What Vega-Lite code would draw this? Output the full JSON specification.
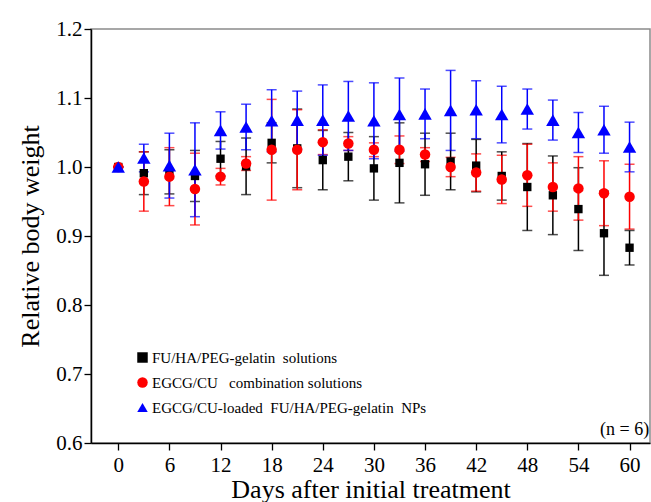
{
  "$schema": "https://vega.github.io/schema/vega-lite/v6.json",
  "width": 559,
  "height": 414,
  "autosize": {"type": "none"},
  "padding": {"left": 91, "top": 29, "right": 1, "bottom": 59},
  "background": "white",
  "config": {
    "view": {"stroke": "#8a8a8a", "strokeWidth": 1.5},
    "font": "Liberation Serif",
    "text": {"font": "Liberation Serif"},
    "legend": {"labelFont": "Liberation Serif", "titleFont": "Liberation Serif"},
    "axis": {
      "grid": false,
      "domainColor": "#000000",
      "domainWidth": 1.5,
      "tickColor": "#000000",
      "tickWidth": 1.3,
      "labelFont": "Liberation Serif",
      "titleFont": "Liberation Serif",
      "labelColor": "#000000",
      "titleColor": "#000000",
      "titleFontWeight": "normal"
    }
  },
  "datasets": {
    "main": [
      {"series": "FU/HA/PEG-gelatin\u00a0 solutions", "day": 0, "mean": 1.000, "sd": 0.0},
      {"series": "FU/HA/PEG-gelatin\u00a0 solutions", "day": 3, "mean": 0.991, "sd": 0.031},
      {"series": "FU/HA/PEG-gelatin\u00a0 solutions", "day": 6, "mean": 0.993, "sd": 0.032},
      {"series": "FU/HA/PEG-gelatin\u00a0 solutions", "day": 9, "mean": 0.987, "sd": 0.037},
      {"series": "FU/HA/PEG-gelatin\u00a0 solutions", "day": 12, "mean": 1.012, "sd": 0.025},
      {"series": "FU/HA/PEG-gelatin\u00a0 solutions", "day": 15, "mean": 1.001, "sd": 0.041},
      {"series": "FU/HA/PEG-gelatin\u00a0 solutions", "day": 18, "mean": 1.035, "sd": 0.029},
      {"series": "FU/HA/PEG-gelatin\u00a0 solutions", "day": 21, "mean": 1.027, "sd": 0.057},
      {"series": "FU/HA/PEG-gelatin\u00a0 solutions", "day": 24, "mean": 1.010, "sd": 0.043},
      {"series": "FU/HA/PEG-gelatin\u00a0 solutions", "day": 27, "mean": 1.015, "sd": 0.035},
      {"series": "FU/HA/PEG-gelatin\u00a0 solutions", "day": 30, "mean": 0.998, "sd": 0.046},
      {"series": "FU/HA/PEG-gelatin\u00a0 solutions", "day": 33, "mean": 1.006, "sd": 0.058},
      {"series": "FU/HA/PEG-gelatin\u00a0 solutions", "day": 36, "mean": 1.004, "sd": 0.045},
      {"series": "FU/HA/PEG-gelatin\u00a0 solutions", "day": 39, "mean": 1.008, "sd": 0.041},
      {"series": "FU/HA/PEG-gelatin\u00a0 solutions", "day": 42, "mean": 1.002, "sd": 0.038},
      {"series": "FU/HA/PEG-gelatin\u00a0 solutions", "day": 45, "mean": 0.987, "sd": 0.035},
      {"series": "FU/HA/PEG-gelatin\u00a0 solutions", "day": 48, "mean": 0.971, "sd": 0.063},
      {"series": "FU/HA/PEG-gelatin\u00a0 solutions", "day": 51, "mean": 0.959, "sd": 0.057},
      {"series": "FU/HA/PEG-gelatin\u00a0 solutions", "day": 54, "mean": 0.939, "sd": 0.060},
      {"series": "FU/HA/PEG-gelatin\u00a0 solutions", "day": 57, "mean": 0.904, "sd": 0.061},
      {"series": "FU/HA/PEG-gelatin\u00a0 solutions", "day": 60, "mean": 0.883, "sd": 0.025},
      {"series": "EGCG/CU\u00a0\u00a0 combination solutions", "day": 0, "mean": 1.000, "sd": 0.0},
      {"series": "EGCG/CU\u00a0\u00a0 combination solutions", "day": 3, "mean": 0.979, "sd": 0.043},
      {"series": "EGCG/CU\u00a0\u00a0 combination solutions", "day": 6, "mean": 0.986, "sd": 0.042},
      {"series": "EGCG/CU\u00a0\u00a0 combination solutions", "day": 9, "mean": 0.968, "sd": 0.052},
      {"series": "EGCG/CU\u00a0\u00a0 combination solutions", "day": 12, "mean": 0.986, "sd": 0.012},
      {"series": "EGCG/CU\u00a0\u00a0 combination solutions", "day": 15, "mean": 1.005, "sd": 0.010},
      {"series": "EGCG/CU\u00a0\u00a0 combination solutions", "day": 18, "mean": 1.025, "sd": 0.073},
      {"series": "EGCG/CU\u00a0\u00a0 combination solutions", "day": 21, "mean": 1.025, "sd": 0.058},
      {"series": "EGCG/CU\u00a0\u00a0 combination solutions", "day": 24, "mean": 1.036, "sd": 0.018},
      {"series": "EGCG/CU\u00a0\u00a0 combination solutions", "day": 27, "mean": 1.034, "sd": 0.010},
      {"series": "EGCG/CU\u00a0\u00a0 combination solutions", "day": 30, "mean": 1.025, "sd": 0.010},
      {"series": "EGCG/CU\u00a0\u00a0 combination solutions", "day": 33, "mean": 1.025, "sd": 0.020},
      {"series": "EGCG/CU\u00a0\u00a0 combination solutions", "day": 36, "mean": 1.018, "sd": 0.010},
      {"series": "EGCG/CU\u00a0\u00a0 combination solutions", "day": 39, "mean": 1.000, "sd": 0.014},
      {"series": "EGCG/CU\u00a0\u00a0 combination solutions", "day": 42, "mean": 0.992, "sd": 0.027},
      {"series": "EGCG/CU\u00a0\u00a0 combination solutions", "day": 45, "mean": 0.982, "sd": 0.035},
      {"series": "EGCG/CU\u00a0\u00a0 combination solutions", "day": 48, "mean": 0.988, "sd": 0.045},
      {"series": "EGCG/CU\u00a0\u00a0 combination solutions", "day": 51, "mean": 0.971, "sd": 0.035},
      {"series": "EGCG/CU\u00a0\u00a0 combination solutions", "day": 54, "mean": 0.969, "sd": 0.046},
      {"series": "EGCG/CU\u00a0\u00a0 combination solutions", "day": 57, "mean": 0.962, "sd": 0.047},
      {"series": "EGCG/CU\u00a0\u00a0 combination solutions", "day": 60, "mean": 0.957, "sd": 0.047},
      {"series": "EGCG/CU-loaded\u00a0 FU/HA/PEG-gelatin\u00a0 NPs", "day": 0, "mean": 1.000, "sd": 0.0},
      {"series": "EGCG/CU-loaded\u00a0 FU/HA/PEG-gelatin\u00a0 NPs", "day": 3, "mean": 1.013, "sd": 0.020},
      {"series": "EGCG/CU-loaded\u00a0 FU/HA/PEG-gelatin\u00a0 NPs", "day": 6, "mean": 1.002, "sd": 0.047},
      {"series": "EGCG/CU-loaded\u00a0 FU/HA/PEG-gelatin\u00a0 NPs", "day": 9, "mean": 0.996, "sd": 0.068},
      {"series": "EGCG/CU-loaded\u00a0 FU/HA/PEG-gelatin\u00a0 NPs", "day": 12, "mean": 1.053, "sd": 0.027},
      {"series": "EGCG/CU-loaded\u00a0 FU/HA/PEG-gelatin\u00a0 NPs", "day": 15, "mean": 1.058, "sd": 0.033},
      {"series": "EGCG/CU-loaded\u00a0 FU/HA/PEG-gelatin\u00a0 NPs", "day": 18, "mean": 1.067, "sd": 0.045},
      {"series": "EGCG/CU-loaded\u00a0 FU/HA/PEG-gelatin\u00a0 NPs", "day": 21, "mean": 1.068, "sd": 0.042},
      {"series": "EGCG/CU-loaded\u00a0 FU/HA/PEG-gelatin\u00a0 NPs", "day": 24, "mean": 1.068, "sd": 0.051},
      {"series": "EGCG/CU-loaded\u00a0 FU/HA/PEG-gelatin\u00a0 NPs", "day": 27, "mean": 1.074, "sd": 0.050},
      {"series": "EGCG/CU-loaded\u00a0 FU/HA/PEG-gelatin\u00a0 NPs", "day": 30, "mean": 1.067, "sd": 0.055},
      {"series": "EGCG/CU-loaded\u00a0 FU/HA/PEG-gelatin\u00a0 NPs", "day": 33, "mean": 1.076, "sd": 0.053},
      {"series": "EGCG/CU-loaded\u00a0 FU/HA/PEG-gelatin\u00a0 NPs", "day": 36, "mean": 1.077, "sd": 0.036},
      {"series": "EGCG/CU-loaded\u00a0 FU/HA/PEG-gelatin\u00a0 NPs", "day": 39, "mean": 1.082, "sd": 0.058},
      {"series": "EGCG/CU-loaded\u00a0 FU/HA/PEG-gelatin\u00a0 NPs", "day": 42, "mean": 1.083, "sd": 0.042},
      {"series": "EGCG/CU-loaded\u00a0 FU/HA/PEG-gelatin\u00a0 NPs", "day": 45, "mean": 1.076, "sd": 0.041},
      {"series": "EGCG/CU-loaded\u00a0 FU/HA/PEG-gelatin\u00a0 NPs", "day": 48, "mean": 1.084, "sd": 0.029},
      {"series": "EGCG/CU-loaded\u00a0 FU/HA/PEG-gelatin\u00a0 NPs", "day": 51, "mean": 1.068, "sd": 0.029},
      {"series": "EGCG/CU-loaded\u00a0 FU/HA/PEG-gelatin\u00a0 NPs", "day": 54, "mean": 1.050, "sd": 0.029},
      {"series": "EGCG/CU-loaded\u00a0 FU/HA/PEG-gelatin\u00a0 NPs", "day": 57, "mean": 1.054, "sd": 0.034},
      {"series": "EGCG/CU-loaded\u00a0 FU/HA/PEG-gelatin\u00a0 NPs", "day": 60, "mean": 1.029, "sd": 0.036}
    ],
    "note": [{"note": "(n = 6)"}]
  },
  "layer": [
    {
      "data": {"name": "main"},
      "mark": {"type": "errorbar", "ticks": true, "size": 10, "thickness": 1.5},
      "encoding": {
        "x": {
          "field": "day",
          "type": "quantitative",
          "scale": {"domain": [-3.2, 62.4], "nice": false, "zero": false},
          "axis": {
            "title": "Days after initial treatment",
            "values": [0, 3, 6, 9, 12, 15, 18, 21, 24, 27, 30, 33, 36, 39, 42, 45, 48, 51, 54, 57, 60],
            "labelExpr": "datum.value % 6 == 0 ? datum.label : ''",
            "tickSize": {"condition": {"test": "datum.value % 6 == 0", "value": 7}, "value": 4},
            "labelFontSize": 21,
            "labelPadding": 4,
            "labelFlush": false,
            "labelOverlap": false,
            "titleFontSize": 26,
            "titlePadding": 1
          }
        },
        "y": {
          "field": "mean",
          "type": "quantitative",
          "scale": {"domain": [0.6, 1.2], "nice": false, "zero": false},
          "axis": {
            "title": "Relative body weight",
            "values": [0.6, 0.65, 0.7, 0.75, 0.8, 0.85, 0.9, 0.95, 1.0, 1.05, 1.1, 1.15, 1.2],
            "labelExpr": "round(datum.value * 100) % 10 == 0 ? format(datum.value, '.1f') : ''",
            "tickSize": {"condition": {"test": "round(datum.value * 100) % 10 == 0", "value": 7}, "value": 4},
            "labelFontSize": 21,
            "labelPadding": 2,
            "labelFlush": false,
            "labelOverlap": false,
            "titleFontSize": 26,
            "titlePadding": 12
          }
        },
        "yError": {"field": "sd"},
        "color": {
          "field": "series",
          "type": "nominal",
          "scale": {
            "domain": ["FU/HA/PEG-gelatin\u00a0 solutions", "EGCG/CU\u00a0\u00a0 combination solutions", "EGCG/CU-loaded\u00a0 FU/HA/PEG-gelatin\u00a0 NPs"],
            "range": ["#000000", "#ff0000", "#0000ff"]
          }
        }
      }
    },
    {
      "data": {"name": "main"},
      "transform": [{"filter": {"field": "series", "equal": "FU/HA/PEG-gelatin\u00a0 solutions"}}],
      "mark": {"type": "point", "filled": true, "opacity": 1, "size": 70},
      "encoding": {
        "x": {"field": "day", "type": "quantitative"},
        "y": {"field": "mean", "type": "quantitative"},
        "color": {
          "field": "series",
          "type": "nominal",
          "legend": {
            "orient": "none",
            "legendX": 44,
            "legendY": 321,
            "title": null,
            "labelFont": "Liberation Serif",
            "labelFontSize": 15,
            "labelColor": "#000000",
            "labelLimit": 500,
            "symbolSize": 110,
            "symbolOpacity": 1,
            "rowPadding": 9,
            "labelOffset": 2,
            "padding": 0,
            "symbolStrokeWidth": 0,
            "encode": {"symbols": {"update": {"opacity": {"value": 1}, "fillOpacity": {"value": 1}}}}
          }
        },
        "shape": {
          "field": "series",
          "type": "nominal",
          "scale": {
            "domain": ["FU/HA/PEG-gelatin\u00a0 solutions", "EGCG/CU\u00a0\u00a0 combination solutions", "EGCG/CU-loaded\u00a0 FU/HA/PEG-gelatin\u00a0 NPs"],
            "range": ["square", "circle", "triangle-up"]
          }
        }
      }
    },
    {
      "data": {"name": "main"},
      "transform": [{"filter": {"field": "series", "equal": "EGCG/CU\u00a0\u00a0 combination solutions"}}],
      "mark": {"type": "point", "filled": true, "opacity": 1, "size": 110},
      "encoding": {
        "x": {"field": "day", "type": "quantitative"},
        "y": {"field": "mean", "type": "quantitative"},
        "color": {"field": "series", "type": "nominal"},
        "shape": {"field": "series", "type": "nominal"}
      }
    },
    {
      "data": {"name": "main"},
      "transform": [{"filter": {"field": "series", "equal": "EGCG/CU-loaded\u00a0 FU/HA/PEG-gelatin\u00a0 NPs"}}],
      "mark": {"type": "point", "filled": true, "opacity": 1, "size": 180},
      "encoding": {
        "x": {"field": "day", "type": "quantitative"},
        "y": {"field": "mean", "type": "quantitative"},
        "color": {"field": "series", "type": "nominal"},
        "shape": {"field": "series", "type": "nominal"}
      }
    },
    {
      "data": {"name": "note"},
      "mark": {"type": "text", "align": "right", "baseline": "alphabetic", "fontSize": 18, "font": "Liberation Serif", "color": "#000000"},
      "encoding": {
        "x": {"datum": 62.3, "type": "quantitative"},
        "y": {"datum": 0.612, "type": "quantitative"},
        "text": {"field": "note", "type": "nominal"}
      }
    }
  ]
}
